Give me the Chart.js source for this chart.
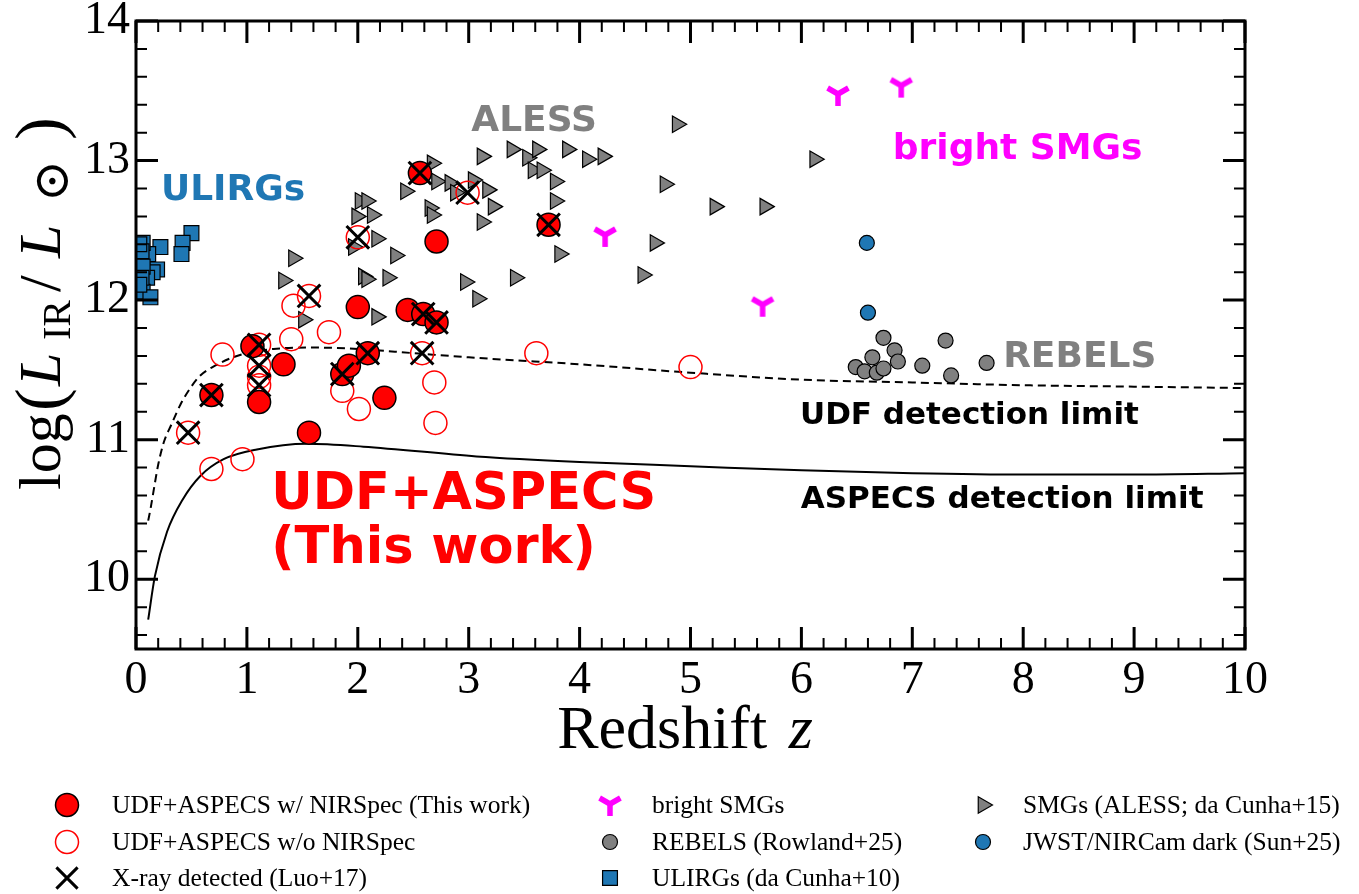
<!DOCTYPE html>
<html lang="en">
<head>
<meta charset="UTF-8">
<title>IR luminosity vs redshift</title>
<script src="https://cdn.jsdelivr.net/npm/chart.js"></script>
<style>
  body, html { margin: 0; padding: 0; background: #fff; }
  #wrap { width: 1359px; height: 894px; }
</style>
</head>
<body>
<div id="wrap"><canvas id="lirChart" width="1359" height="894"></canvas></div>
<script>
// UDF+ASPECS sources with NIRSpec redshifts (xray: 1 = X-ray detected)
const nirZ    = [0.68, 1.05, 1.11, 1.33, 1.56, 1.86, 1.92, 2.09, 2.00, 2.24, 2.45, 2.59, 2.71, 2.56, 2.71, 3.72];
const nirL    = [11.32, 11.67, 11.27, 11.54, 11.05, 11.47, 11.53, 11.62, 11.95, 11.30, 11.93, 11.90, 11.84, 12.91, 12.42, 12.54];
const nirXray = [1, 0, 0, 0, 0, 1, 0, 1, 0, 0, 0, 1, 1, 1, 0, 1];

// UDF+ASPECS sources without NIRSpec
const noNirZ    = [0.47, 0.68, 0.78, 0.96, 1.11, 1.11, 1.11, 1.11, 1.40, 1.42, 1.56, 1.74, 1.86, 2.01, 2.00, 2.58, 2.69, 2.70, 2.99, 3.61, 5.00];
const noNirL    = [11.05, 10.79, 11.61, 10.86, 11.68, 11.53, 11.45, 11.39, 11.72, 11.96, 12.03, 11.77, 11.35, 11.22, 12.45, 11.62, 11.41, 11.12, 12.77, 11.62, 11.52];
const noNirXray = [1, 0, 0, 0, 1, 1, 0, 1, 0, 0, 1, 0, 0, 0, 1, 1, 0, 0, 1, 0, 0];

// ALESS SMGs (da Cunha+15)
const alessZ = [1.42, 1.33, 1.51, 2.17, 2.05, 2.08, 2.27, 2.34, 1.96, 2.17, 1.99, 2.13, 2.02, 2.08, 2.43, 2.67,
                2.71, 2.83, 2.88, 2.65, 2.67, 3.04, 3.17, 3.22, 3.12, 3.39, 3.53, 3.62, 3.58, 3.66, 3.78, 3.78,
                3.89, 4.07, 4.21, 4.88, 4.77, 6.12, 5.22, 5.67, 4.68, 4.57, 3.82, 3.42, 2.97, 3.08, 3.12];
const alessL = [12.30, 12.14, 11.86, 11.88, 12.17, 12.15, 12.16, 12.32, 12.38, 12.44, 12.60, 12.61, 12.71, 12.71, 12.78, 12.98,
                12.85, 12.84, 12.77, 12.66, 12.61, 12.86, 12.79, 12.67, 13.03, 13.08, 13.02, 13.08, 12.93, 12.93, 12.85, 12.71,
                13.08, 13.01, 13.03, 13.26, 12.83, 13.01, 12.67, 12.67, 12.41, 12.18, 12.33, 12.16, 12.13, 12.01, 12.56];

// bright SMGs
const brightZ = [6.33, 6.90, 4.23, 5.65];
const brightL = [13.47, 13.53, 12.46, 11.96];

// REBELS (Rowland+25)
const rebelsZ = [6.74, 7.30, 6.84, 6.64, 6.87, 6.49, 7.09, 7.67, 6.57, 6.68, 6.74, 7.35];
const rebelsL = [11.73, 11.71, 11.64, 11.59, 11.56, 11.52, 11.53, 11.55, 11.49, 11.48, 11.51, 11.46];

// JWST/NIRCam dark (Sun+25)
const jwstZ = [6.59, 6.60];
const jwstL = [12.41, 11.91];

// local ULIRGs (da Cunha+10)
const ulirgZ = [0.50, 0.42, 0.41, 0.22, 0.11, 0.06, 0.19, 0.15, 0.10, 0.06, 0.06, 0.13, 0.05, 0.05, 0.03, 0.03];
const ulirgL = [12.48, 12.41, 12.33, 12.38, 12.33, 12.41, 12.22, 12.20, 12.16, 12.24, 12.06, 12.02, 12.35, 12.16, 12.40, 12.11];

// detection limit curves
const udfLimZ = [0.11, 0.13, 0.16, 0.20, 0.25, 0.32, 0.40, 0.49, 0.58, 0.69, 0.91, 1.24, 1.6, 2.0, 2.5, 3.0, 4.0, 5.0, 6.0, 7.0, 8.0, 9.0, 10.0];
const udfLimL = [10.42, 10.50, 10.64, 10.82, 10.98, 11.11, 11.25, 11.37, 11.46, 11.52, 11.60, 11.65, 11.66, 11.65, 11.62, 11.59, 11.54, 11.48, 11.43, 11.41, 11.39, 11.38, 11.37];
const aspecsLimZ = [0.11, 0.17, 0.28, 0.42, 0.58, 0.79, 1.09, 1.54, 2.05, 3.07, 4.0, 5.0, 6.0, 7.0, 8.0, 9.0, 10.0];
const aspecsLimL = [9.71, 10.02, 10.34, 10.57, 10.74, 10.86, 10.93, 10.97, 10.95, 10.88, 10.84, 10.81, 10.78, 10.76, 10.75, 10.75, 10.76];

const xTicks = [0, 1, 2, 3, 4, 5, 6, 7, 8, 9, 10];
const yTicks = [10, 11, 12, 13, 14];

function pts(zs, ls) { return zs.map((z, i) => ({ x: z, y: ls[i] })); }
function flagged(zs, ls, flags) { return pts(zs, ls).filter((p, i) => flags[i]); }

// thick magenta "Y" marker (tri_down)
function triDown(size, lw, color) {
  const c = document.createElement('canvas');
  c.width = size; c.height = size;
  const g = c.getContext('2d');
  const cx = size / 2, cy = size / 2 - 1, r = size / 2 - 2;
  g.strokeStyle = color; g.fillStyle = color; g.lineWidth = lw;
  g.beginPath();
  g.moveTo(cx, cy); g.lineTo(cx, cy + r);
  g.moveTo(cx, cy); g.lineTo(cx - r * 0.866, cy - r * 0.5);
  g.moveTo(cx, cy); g.lineTo(cx + r * 0.866, cy - r * 0.5);
  g.stroke();
  g.beginPath(); g.arc(cx, cy, lw / 2, 0, Math.PI * 2); g.fill();
  return c;
}
const yMarker = triDown(28, 5.5, '#ff00ff');

const serif = '"Liberation Serif", "Times New Roman", serif';
const sans = '"DejaVu Sans", sans-serif';

const xrayDs = {
  label: 'X-ray detected (Luo+17)',
  data: flagged(nirZ, nirL, nirXray).concat(flagged(noNirZ, noNirL, noNirXray)),
  pointStyle: 'crossRot', pointRadius: 16, pointBorderWidth: 3,
  pointBorderColor: '#000', pointBackgroundColor: '#000'
};
const nirDs = {
  label: 'UDF+ASPECS w/ NIRSpec (This work)',
  data: pts(nirZ, nirL),
  pointStyle: 'circle', pointRadius: 11.5, pointBorderWidth: 1.5,
  pointBorderColor: '#000', pointBackgroundColor: '#ff0000'
};
const noNirDs = {
  label: 'UDF+ASPECS w/o NIRSpec',
  data: pts(noNirZ, noNirL),
  pointStyle: 'circle', pointRadius: 11.5, pointBorderWidth: 1.5,
  pointBorderColor: '#ff0000', pointBackgroundColor: 'rgba(0,0,0,0)'
};
const brightDs = {
  label: 'bright SMGs',
  data: pts(brightZ, brightL),
  pointStyle: yMarker, pointRadius: 12, pointBorderWidth: 0,
  pointBorderColor: '#ff00ff', pointBackgroundColor: '#ff00ff'
};
const rebelsDs = {
  label: 'REBELS (Rowland+25)',
  data: pts(rebelsZ, rebelsL),
  pointStyle: 'circle', pointRadius: 7.5, pointBorderWidth: 1.2,
  pointBorderColor: '#000', pointBackgroundColor: '#808080'
};
const ulirgDs = {
  label: 'ULIRGs (da Cunha+10)',
  data: pts(ulirgZ, ulirgL),
  pointStyle: 'rect', pointRadius: 10.5, pointBorderWidth: 1.2,
  pointBorderColor: '#000', pointBackgroundColor: '#1f77b4'
};
const alessDs = {
  label: 'SMGs (ALESS; da Cunha+15)',
  data: pts(alessZ, alessL),
  pointStyle: 'triangle', pointRotation: 90, pointRadius: 9.5, pointBorderWidth: 1.2,
  pointBorderColor: '#000', pointBackgroundColor: '#808080'
};
const jwstDs = {
  label: 'JWST/NIRCam dark (Sun+25)',
  data: pts(jwstZ, jwstL),
  pointStyle: 'circle', pointRadius: 7.5, pointBorderWidth: 1.2,
  pointBorderColor: '#000', pointBackgroundColor: '#1f77b4'
};
const udfLimDs = {
  label: 'UDF detection limit',
  data: pts(udfLimZ, udfLimL),
  showLine: true, pointRadius: 0, borderColor: '#000', borderWidth: 2,
  borderDash: [8, 5], cubicInterpolationMode: 'monotone'
};
const aspecsLimDs = {
  label: 'ASPECS detection limit',
  data: pts(aspecsLimZ, aspecsLimL),
  showLine: true, pointRadius: 0, borderColor: '#000', borderWidth: 2,
  cubicInterpolationMode: 'monotone'
};

// frame with inward major/minor ticks on all four sides
const frameTicks = {
  id: 'frameTicks',
  afterDatasetsDraw(chart) {
    const { ctx, chartArea: a, scales } = chart;
    const xs = scales.x, ys = scales.y;
    ctx.save();
    ctx.strokeStyle = '#000';
    ctx.lineCap = 'butt';
    for (let k = 0; k <= 50; k++) {
      const major = k % 5 === 0;
      const px = xs.getPixelForValue(k * 0.2);
      const len = major ? 22 : 11;
      ctx.lineWidth = major ? 3 : 2;
      ctx.beginPath();
      ctx.moveTo(px, a.bottom); ctx.lineTo(px, a.bottom - len);
      ctx.moveTo(px, a.top); ctx.lineTo(px, a.top + len);
      ctx.stroke();
    }
    for (let k = 48; k <= 70; k++) {
      const major = k % 5 === 0;
      const py = ys.getPixelForValue(k * 0.2);
      const len = major ? 22 : 11;
      ctx.lineWidth = major ? 3 : 2;
      ctx.beginPath();
      ctx.moveTo(a.left, py); ctx.lineTo(a.left + len, py);
      ctx.moveTo(a.right, py); ctx.lineTo(a.right - len, py);
      ctx.stroke();
    }
    ctx.lineWidth = 3;
    ctx.strokeRect(a.left, a.top, a.right - a.left, a.bottom - a.top);
    ctx.restore();
  }
};

// text labels placed in data coordinates
const labelsPlugin = {
  id: 'labelsPlugin',
  afterDatasetsDraw(chart, args, opts) {
    const { ctx, scales } = chart;
    ctx.save();
    opts.items.forEach(it => {
      ctx.font = it.font;
      ctx.fillStyle = it.color;
      ctx.textAlign = it.align || 'center';
      ctx.textBaseline = 'middle';
      ctx.fillText(it.text, scales.x.getPixelForValue(it.x), scales.y.getPixelForValue(it.y));
    });
    ctx.restore();
  }
};

// axis titles with mixed italic / subscript pieces
const axisTitles = {
  id: 'axisTitles',
  afterDraw(chart) {
    const { ctx, chartArea: a } = chart;
    ctx.save();
    ctx.fillStyle = '#000';
    ctx.textBaseline = 'alphabetic';
    // x title
    const f1 = '62px ' + serif, f2 = 'italic 62px ' + serif;
    ctx.font = f1; const w1 = ctx.measureText('Redshift ').width;
    ctx.font = f2; const w2 = ctx.measureText('z').width;
    let x0 = 685 - (w1 + w2) / 2 - 3;
    ctx.font = f1; ctx.textAlign = 'left'; ctx.fillText('Redshift ', x0, 748);
    ctx.font = f2; ctx.fillText('z', x0 + w1 + 6, 748);
    // y title, read bottom to top
    ctx.translate(60, 490);
    ctx.rotate(-Math.PI / 2);
    const parts = [
      { t: 'log', f: '60px ' + serif, u: 0, v: 0 },
      { t: '(', f: '68px ' + serif, u: 79, v: 2 },
      { t: 'L', f: 'italic 60px ' + serif, u: 104, v: 0 },
      { t: 'IR', f: '40px ' + serif, u: 150, v: 10 },
      { t: '/', f: '60px ' + serif, u: 198, v: 0 },
      { t: 'L', f: 'italic 60px ' + serif, u: 232, v: 0 },
      { t: '\u2299', f: '50px "DejaVu Serif", serif', u: 288, v: 8 },
      { t: ')', f: '68px ' + serif, u: 350, v: 2 }
    ];
    parts.forEach(p => { ctx.font = p.f; ctx.fillText(p.t, p.u, p.v); });
    ctx.restore();
  }
};

// three-column legend under the plot
const gridLegend = {
  id: 'gridLegend',
  afterDraw(chart, args, opts) {
    const { ctx } = chart;
    const h = Chart.helpers;
    ctx.save();
    opts.cells.forEach(c => {
      const ds = chart.data.datasets[c.ds];
      ctx.fillStyle = ds.pointBackgroundColor;
      ctx.strokeStyle = ds.pointBorderColor;
      ctx.lineWidth = ds.pointBorderWidth;
      h.drawPoint(ctx, {
        pointStyle: ds.pointStyle, radius: c.r || ds.pointRadius,
        rotation: ds.pointRotation || 0, borderWidth: ds.pointBorderWidth
      }, c.mx, c.y);
      ctx.fillStyle = '#000';
      ctx.font = '25.5px ' + serif;
      ctx.textAlign = 'left';
      ctx.textBaseline = 'middle';
      ctx.fillText(ds.label, c.tx, c.y + 1);
    });
    ctx.restore();
  }
};

const datasets = [xrayDs, nirDs, noNirDs, brightDs, rebelsDs, jwstDs, ulirgDs, alessDs, udfLimDs, aspecsLimDs];

new Chart(document.getElementById('lirChart'), {
  type: 'scatter',
  data: { datasets: datasets },
  options: {
    responsive: false,
    animation: false,
    devicePixelRatio: 1,
    layout: { padding: { left: 0, top: 21, right: 114, bottom: 0 } },
    plugins: {
      legend: { display: false },
      tooltip: { enabled: false },
      labelsPlugin: {
        items: [
          { text: 'ULIRGs', x: 0.875, y: 12.785, color: '#1f77b4', font: 'bold 36px ' + sans },
          { text: 'ALESS', x: 3.59, y: 13.28, color: '#808080', font: 'bold 36px ' + sans },
          { text: 'bright SMGs', x: 7.95, y: 13.08, color: '#ff00ff', font: 'bold 36px ' + sans },
          { text: 'REBELS', x: 8.51, y: 11.585, color: '#808080', font: 'bold 36px ' + sans },
          { text: 'UDF detection limit', x: 7.515, y: 11.17, color: '#000', font: 'bold 31px ' + sans },
          { text: 'ASPECS detection limit', x: 7.81, y: 10.57, color: '#000', font: 'bold 31px ' + sans },
          { text: 'UDF+ASPECS', x: 1.22, y: 10.60, color: '#ff0000', font: 'bold 51px ' + sans, align: 'left' },
          { text: '(This work)', x: 1.22, y: 10.21, color: '#ff0000', font: 'bold 51px ' + sans, align: 'left' }
        ]
      },
      gridLegend: {
        cells: [
          { ds: 1, mx: 67, tx: 112, y: 805 },
          { ds: 2, mx: 67, tx: 112, y: 842 },
          { ds: 0, mx: 67, tx: 112, y: 878, r: 15 },
          { ds: 3, mx: 610, tx: 652, y: 805 },
          { ds: 4, mx: 610, tx: 652, y: 842 },
          { ds: 6, mx: 610, tx: 652, y: 878 },
          { ds: 7, mx: 983, tx: 1023, y: 805 },
          { ds: 5, mx: 983, tx: 1023, y: 842 }
        ]
      }
    },
    scales: {
      x: {
        type: 'linear', min: 0, max: 10,
        afterBuildTicks: s => { s.ticks = xTicks.map(v => ({ value: v })); },
        ticks: { font: { family: serif, size: 46 }, color: '#000', padding: 4, maxRotation: 0 },
        grid: { display: false, drawTicks: false },
        border: { display: false },
        afterFit: s => { s.height = 245; s.paddingLeft = 0; s.paddingRight = 0; }
      },
      y: {
        type: 'linear', min: 9.5, max: 14,
        afterBuildTicks: s => { s.ticks = yTicks.map(v => ({ value: v })); },
        ticks: { font: { family: serif, size: 46 }, color: '#000', padding: 6 },
        grid: { display: false, drawTicks: false },
        border: { display: false },
        afterFit: s => { s.width = 136; s.paddingTop = 0; s.paddingBottom = 0; }
      }
    }
  },
  plugins: [frameTicks, labelsPlugin, axisTitles, gridLegend]
});
</script>
</body>
</html>
